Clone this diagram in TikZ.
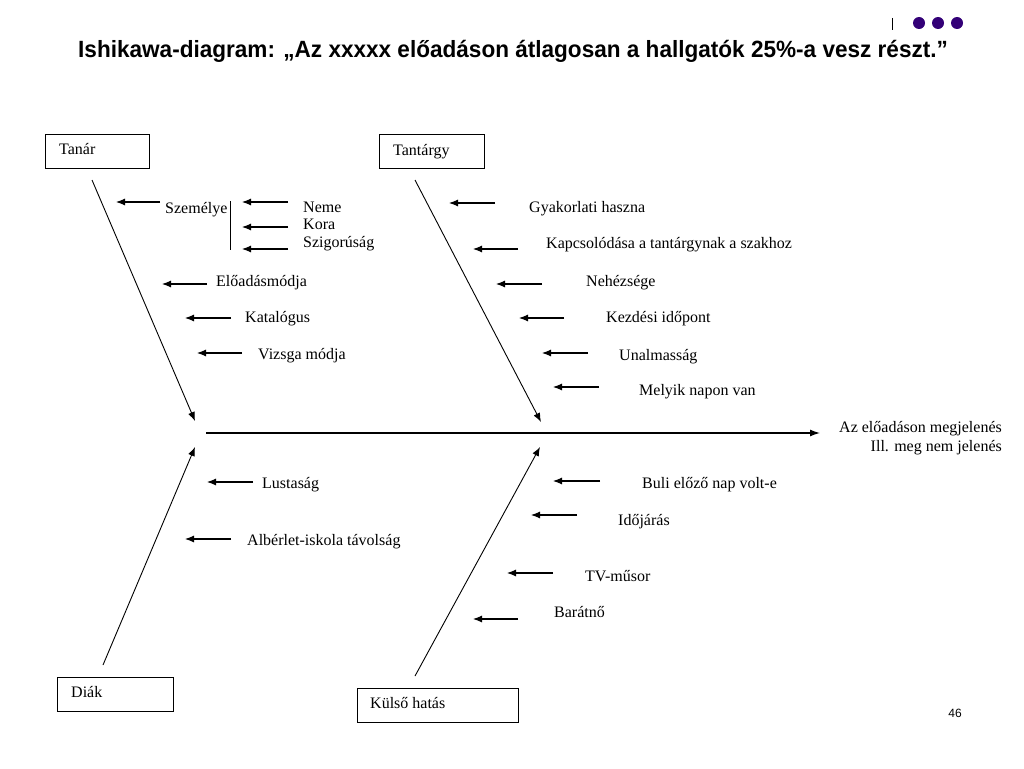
\documentclass[tikz,border=0pt]{standalone}
\usepackage{fontspec}
\setmainfont{Liberation Serif}
\newfontfamily\titlefont{Liberation Sans}
\usetikzlibrary{arrows.meta}
\definecolor{dotpurple}{RGB}{51,0,119}
\tikzset{
  lbl/.style={anchor=base west, inner sep=0pt, font=\fontsize{16}{18}\selectfont},
  rlbl/.style={anchor=base east, inner sep=0pt, font=\fontsize{16}{18}\selectfont},
  catbox/.style={draw, line width=0.9pt, minimum width=#1, minimum height=34pt, inner sep=0pt},
  bonearrow/.style={line width=0.9pt, -{Latex[length=9pt,width=7pt]}},
  subarrow/.style={line width=1.1pt, -{Latex[length=9pt,width=7pt]}},
  spine/.style={line width=1.3pt, -{Latex[length=10pt,width=7pt]}},
  dot/.style={circle, fill=dotpurple, minimum size=12pt, inner sep=0pt},
}
\begin{document}
\begin{tikzpicture}[x=1pt,y=-1pt]
\useasboundingbox (0,0) rectangle (1024,768);

% header decoration
\coordinate (barA) at (892,18);
\coordinate (barB) at (892,30);
\draw[line width=0.8pt] (barA) -- (barB);
\node[dot] (d1) at (919,23) {};
\node[dot] (d2) at (938,23) {};
\node[dot] (d3) at (957,23) {};

% title
\node[anchor=base west, inner sep=0pt, font=\titlefont\bfseries\fontsize{23.5}{28}\selectfont] (title) at (78,57)
  {\scalebox{0.96}[1]{Ishikawa-diagram: „Az xxxxx előadáson átlagosan a hallgatók 25\%-a vesz részt.”}};

% category boxes
\node[catbox=104pt, anchor=north west] (tanarbox) at (45,134) {};
\node[lbl] (tanar) at (59,154) {Tanár};
\node[catbox=105pt, anchor=north west] (tantbox) at (379,134) {};
\node[lbl] (tant) at (393,155) {Tantárgy};
\node[catbox=116pt, anchor=north west] (diakbox) at (57,677) {};
\node[lbl] (diak) at (71,697) {Diák};
\node[catbox=161pt, anchor=north west] (kulsobox) at (357,688) {};
\node[lbl] (kulso) at (370,708) {Külső hatás};

% spine
\coordinate (spS) at (206,433);
\coordinate (spE) at (820,433);
\draw[spine] (spS) -- (spE);
\node[rlbl] (eff1) at (1002,432) {Az előadáson megjelenés};
\node[rlbl] (eff2) at (1002,451) {Ill. meg nem jelenés};

% bones
\coordinate (b1s) at (92,180);  \coordinate (b1e) at (195,421);
\coordinate (b2s) at (415,180); \coordinate (b2e) at (541,422);
\coordinate (b3s) at (103,665); \coordinate (b3e) at (195,447);
\coordinate (b4s) at (415,676); \coordinate (b4e) at (540,447);
\draw[bonearrow] (b1s) -- (b1e);
\draw[bonearrow] (b2s) -- (b2e);
\draw[bonearrow] (b3s) -- (b3e);
\draw[bonearrow] (b4s) -- (b4e);

% Tanar causes
\coordinate (t1a) at (160,202); \coordinate (t1b) at (116,202);
\draw[subarrow] (t1a) -- (t1b);
\node[lbl] (szemelye) at (165,213) {Személye};
\coordinate (vA) at (230,201); \coordinate (vB) at (230,250);
\draw[line width=0.9pt] (vA) -- (vB);
\coordinate (n1a) at (288,202); \coordinate (n1b) at (242,202);
\coordinate (n2a) at (288,227); \coordinate (n2b) at (242,227);
\coordinate (n3a) at (288,249); \coordinate (n3b) at (242,249);
\draw[subarrow] (n1a) -- (n1b);
\draw[subarrow] (n2a) -- (n2b);
\draw[subarrow] (n3a) -- (n3b);
\node[lbl] (neme) at (303,212) {Neme};
\node[lbl] (kora) at (303,229) {Kora};
\node[lbl] (szig) at (303,247) {Szigorúság};
\coordinate (t2a) at (207,284); \coordinate (t2b) at (162,284);
\draw[subarrow] (t2a) -- (t2b);
\node[lbl] (eload) at (216,286) {Előadásmódja};
\coordinate (t3a) at (231,318); \coordinate (t3b) at (185,318);
\draw[subarrow] (t3a) -- (t3b);
\node[lbl] (katal) at (245,322) {Katalógus};
\coordinate (t4a) at (242,353); \coordinate (t4b) at (197,353);
\draw[subarrow] (t4a) -- (t4b);
\node[lbl] (vizsga) at (258,359) {Vizsga módja};

% Tantargy causes
\coordinate (s1a) at (495,203); \coordinate (s1b) at (449,203);
\draw[subarrow] (s1a) -- (s1b);
\node[lbl] (gyak) at (529,212) {Gyakorlati haszna};
\coordinate (s2a) at (518,249); \coordinate (s2b) at (473,249);
\draw[subarrow] (s2a) -- (s2b);
\node[lbl] (kapcs) at (546,248) {Kapcsolódása a tantárgynak a szakhoz};
\coordinate (s3a) at (542,284); \coordinate (s3b) at (496,284);
\draw[subarrow] (s3a) -- (s3b);
\node[lbl] (nehez) at (586,286) {Nehézsége};
\coordinate (s4a) at (564,318); \coordinate (s4b) at (519,318);
\draw[subarrow] (s4a) -- (s4b);
\node[lbl] (kezd) at (606,322) {Kezdési időpont};
\coordinate (s5a) at (588,353); \coordinate (s5b) at (542,353);
\draw[subarrow] (s5a) -- (s5b);
\node[lbl] (unal) at (619,360) {Unalmasság};
\coordinate (s6a) at (599,387); \coordinate (s6b) at (553,387);
\draw[subarrow] (s6a) -- (s6b);
\node[lbl] (melyik) at (639,395) {Melyik napon van};

% Diak causes
\coordinate (d1a) at (253,482); \coordinate (d1b) at (207,482);
\draw[subarrow] (d1a) -- (d1b);
\node[lbl] (lusta) at (262,488) {Lustaság};
\coordinate (d2a) at (231,539); \coordinate (d2b) at (185,539);
\draw[subarrow] (d2a) -- (d2b);
\node[lbl] (alber) at (247,545) {Albérlet-iskola távolság};

% Kulso causes
\coordinate (k1a) at (600,481); \coordinate (k1b) at (553,481);
\draw[subarrow] (k1a) -- (k1b);
\node[lbl] (buli) at (642,488) {Buli előző nap volt-e};
\coordinate (k2a) at (577,515); \coordinate (k2b) at (531,515);
\draw[subarrow] (k2a) -- (k2b);
\node[lbl] (idoj) at (618,525) {Időjárás};
\coordinate (k3a) at (553,573); \coordinate (k3b) at (507,573);
\draw[subarrow] (k3a) -- (k3b);
\node[lbl] (tv) at (585,581) {TV-műsor};
\coordinate (k4a) at (518,619); \coordinate (k4b) at (473,619);
\draw[subarrow] (k4a) -- (k4b);
\node[lbl] (barat) at (554,617) {Barátnő};

% page number
\node[font=\titlefont\fontsize{12}{14}\selectfont, inner sep=0pt] (pnum) at (955,713) {46};
\end{tikzpicture}
\end{document}
